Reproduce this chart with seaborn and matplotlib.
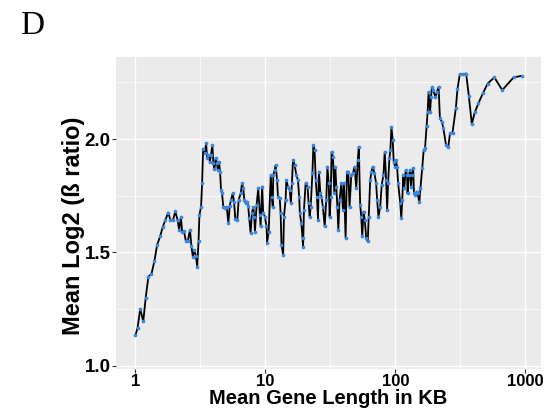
import numpy as np
import pandas as pd
import matplotlib
matplotlib.use("Agg")
import matplotlib.pyplot as plt
import matplotlib.ticker as mticker
import seaborn as sns

# Mean gene length per bin (KB) and mean log2 beta ratio
gene_length_kb = [
    1.00, 1.04, 1.09, 1.15, 1.20, 1.26, 1.33, 1.40, 1.47, 1.55,
    1.62, 1.70, 1.79, 1.86, 1.95, 2.03, 2.11, 2.17, 2.24, 2.29,
    2.36, 2.45, 2.53, 2.63, 2.70, 2.77, 2.83, 2.92, 2.99, 3.06,
    3.11, 3.20, 3.26, 3.32, 3.42, 3.50, 3.56, 3.65, 3.74, 3.82,
    3.91, 3.98, 4.05, 4.15, 4.25, 4.30, 4.40, 4.48, 4.56, 4.64,
    4.75, 4.89, 5.04, 5.19, 5.32, 5.44, 5.61, 5.74, 5.87, 6.08,
    6.23, 6.46, 6.61, 6.76, 6.88, 7.05, 7.22, 7.38, 7.51, 7.70,
    7.88, 8.06, 8.21, 8.31, 8.56, 8.81, 9.08, 9.19, 9.45, 9.62,
    9.91, 10.2, 10.3, 10.6, 11.0, 11.2, 11.4, 11.5, 11.8, 12.0,
    12.3, 12.5, 12.9, 13.1, 13.3, 13.7, 13.9, 14.3, 14.5, 14.9,
    15.4, 15.7, 16.0, 16.3, 16.8, 17.3, 17.8, 18.2, 18.4, 18.9,
    19.3, 19.5, 19.8, 20.4, 21.1, 21.5, 21.9, 22.3, 23.0, 23.4,
    23.9, 24.4, 24.9, 25.4, 25.8, 26.5, 27.0, 27.7, 28.6, 29.4,
    30.0, 30.7, 31.2, 31.8, 32.3, 33.1, 33.9, 34.5, 35.1, 35.8,
    36.4, 37.2, 38.4, 39.5, 40.2, 41.4, 42.4, 43.4, 44.4, 45.8,
    47.1, 48.5, 50.0, 51.4, 52.3, 53.6, 54.6, 55.6, 56.9, 58.2,
    59.6, 61.3, 62.4, 64.0, 65.5, 67.0, 69.0, 71.1, 72.4, 74.1,
    76.4, 78.5, 80.9, 82.8, 84.9, 86.4, 87.9, 89.9, 91.5, 93.2,
    95.3, 97.1, 99.5, 101, 103, 105, 109, 111, 113, 115,
    117, 120, 123, 124, 127, 130, 132, 134, 137, 139,
    142, 146, 148, 153, 156, 161, 165, 169, 174, 177,
    180, 185, 188, 191, 195, 203, 209, 215, 220, 228,
    234, 245, 255, 263, 275, 292, 300, 313, 332, 350,
    367, 387, 408, 435, 470, 513, 577, 664, 812, 935,
]
mean_log2_ratio = [
    1.133, 1.167, 1.251, 1.195, 1.298, 1.393, 1.405, 1.460, 1.533, 1.570,
    1.610, 1.643, 1.675, 1.643, 1.643, 1.681, 1.643, 1.600, 1.655, 1.590,
    1.595, 1.548, 1.548, 1.600, 1.526, 1.480, 1.511, 1.485, 1.437, 1.548,
    1.665, 1.700, 1.805, 1.955, 1.937, 1.981, 1.915, 1.930, 1.900, 1.930,
    1.974, 1.893, 1.866, 1.915, 1.893, 1.863, 1.900, 1.856, 1.775, 1.760,
    1.700, 1.697, 1.700, 1.629, 1.705, 1.731, 1.760, 1.724, 1.646, 1.643,
    1.731, 1.760, 1.805, 1.783, 1.731, 1.717, 1.724, 1.705, 1.650, 1.585,
    1.673, 1.700, 1.658, 1.590, 1.709, 1.783, 1.665, 1.614, 1.790, 1.673,
    1.658, 1.614, 1.543, 1.590, 1.841, 1.746, 1.700, 1.841, 1.863, 1.885,
    1.819, 1.746, 1.739, 1.673, 1.533, 1.489, 1.658, 1.731, 1.819, 1.790,
    1.775, 1.717, 1.805, 1.907, 1.885, 1.841, 1.819, 1.746, 1.673, 1.629,
    1.563, 1.522, 1.687, 1.805, 1.790, 1.717, 1.658, 1.700, 1.849, 1.974,
    1.951, 1.819, 1.746, 1.643, 1.856, 1.760, 1.746, 1.700, 1.614, 1.731,
    1.878, 1.805, 1.658, 1.746, 1.944, 1.922, 1.760, 1.878, 1.790, 1.700,
    1.599, 1.731, 1.805, 1.687, 1.805, 1.563, 1.856, 1.856, 1.700, 1.841,
    1.849, 1.878, 1.783, 1.907, 1.966, 1.709, 1.658, 1.570, 1.680, 1.643,
    1.563, 1.548, 1.658, 1.819, 1.856, 1.878, 1.849, 1.805, 1.731, 1.658,
    1.700, 1.797, 1.841, 1.944, 1.819, 1.687, 1.805, 1.915, 1.951, 2.054,
    1.996, 1.900, 1.878, 1.907, 1.878, 1.805, 1.717, 1.651, 1.731, 1.841,
    1.783, 1.863, 1.841, 1.760, 1.841, 1.863, 1.790, 1.841, 1.871, 1.760,
    1.753, 1.768, 1.760, 1.724, 1.785, 1.874, 1.951, 1.959, 2.057, 2.120,
    2.208, 2.120, 2.186, 2.230, 2.216, 2.186, 2.208, 2.230, 2.091, 2.076,
    2.047, 1.974, 1.963, 2.025, 2.028, 2.138, 2.219, 2.286, 2.286, 2.289,
    2.191, 2.066, 2.118, 2.157, 2.201, 2.245, 2.272, 2.216, 2.272, 2.279,
]

x_breaks = [1, 10, 100, 1000]
x_tick_labels = ["1", "10", "100", "1000"]
y_breaks = [1.0, 1.5, 2.0]
y_tick_labels = ["1.0", "1.5", "2.0"]

df = pd.DataFrame({"length": gene_length_kb, "ratio": mean_log2_ratio})

sns.set_theme(style="darkgrid", rc={
    "axes.facecolor": "#EBEBEB",
    "grid.color": "white",
    "axes.edgecolor": "#EBEBEB",
})
plt.rcParams["font.family"] = ["Liberation Sans", "DejaVu Sans"]

fig = plt.figure(figsize=(5.52, 4.09), dpi=100)
ax = fig.add_axes([116 / 552, 1 - 369 / 409, 425 / 552, 312 / 409])

sns.lineplot(data=df, x="length", y="ratio", ax=ax, color="black",
             linewidth=1.3, sort=False, estimator=None, zorder=3)
sns.scatterplot(data=df, x="length", y="ratio", ax=ax, color="#3A86E0",
                s=7, linewidth=0, zorder=4)

ax.set_xscale("log")
ax.set_xlim(10 ** -0.149, 10 ** 3.12)
ax.set_ylim(0.985, 2.362)

ax.xaxis.set_major_locator(mticker.FixedLocator(x_breaks))
ax.xaxis.set_major_formatter(mticker.FixedFormatter(x_tick_labels))
ax.xaxis.set_minor_locator(mticker.FixedLocator([10 ** 0.5, 10 ** 1.5, 10 ** 2.5]))
ax.xaxis.set_minor_formatter(mticker.NullFormatter())
ax.yaxis.set_major_locator(mticker.FixedLocator(y_breaks))
ax.yaxis.set_major_formatter(mticker.FixedFormatter(y_tick_labels))
ax.yaxis.set_minor_locator(mticker.FixedLocator([1.25, 1.75, 2.25]))

ax.grid(which="major", color="white", linewidth=1.0)
ax.grid(which="minor", color="white", linewidth=0.5)
ax.set_axisbelow(True)
for s in ax.spines.values():
    s.set_visible(False)

ax.tick_params(axis="both", which="major", length=3, width=0.8, color="#333333",
               pad=1.0, labelcolor="black", bottom=True, left=True)
ax.tick_params(axis="x", which="major", labelsize=12, pad=0.5)
ax.tick_params(axis="y", which="major", labelsize=13.5)
ax.tick_params(axis="both", which="minor", length=0)
for lab in ax.get_xticklabels() + ax.get_yticklabels():
    lab.set_fontweight("bold")

ax.set_xlabel("Mean Gene Length in KB", fontsize=14.5, fontweight="bold",
              color="black")
ax.set_ylabel("Mean Log2 (ß ratio)", fontsize=17, fontweight="bold",
              color="black")
ax.xaxis.set_label_coords(0.5, -0.064)
ax.yaxis.set_label_coords(-0.073, 0.46)

fig.text(20 / 552, 1 - 11 / 409, "D", fontsize=24, va="top", ha="left",
         family=["Liberation Serif", "DejaVu Serif"], color="black")

fig.savefig("out.png", dpi=100)
